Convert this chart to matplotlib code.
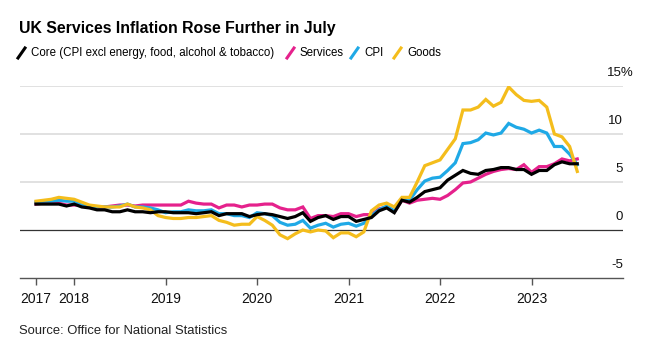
import matplotlib
matplotlib.use("Agg")
import matplotlib.pyplot as plt
from matplotlib.lines import Line2D
import pandas as pd

# Monthly annual inflation rates, Aug 2017 to Jul 2023 (%)
months = pd.date_range("2017-08-01", "2023-07-01", freq="MS")

core = [2.7, 2.7, 2.7, 2.7, 2.5,
        2.7, 2.4, 2.3, 2.1, 2.1, 1.9, 1.9, 2.1, 1.9, 1.9, 1.8, 1.9,
        1.9, 1.8, 1.8, 1.8, 1.7, 1.8, 1.9, 1.5, 1.7, 1.7, 1.7, 1.4,
        1.6, 1.7, 1.6, 1.4, 1.2, 1.4, 1.8, 0.9, 1.3, 1.5, 1.1, 1.4,
        1.4, 0.9, 1.1, 1.3, 2.0, 2.3, 1.8, 3.1, 2.9, 3.4, 4.0, 4.2,
        4.4, 5.2, 5.7, 6.2, 5.9, 5.8, 6.2, 6.3, 6.5, 6.5, 6.3, 6.3,
        5.8, 6.2, 6.2, 6.8, 7.1, 6.9, 6.9]

services = [2.7, 2.8, 2.8, 2.8, 2.6,
            2.6, 2.6, 2.5, 2.3, 2.4, 2.5, 2.6, 2.6, 2.5, 2.6, 2.6, 2.6,
            2.6, 2.6, 2.6, 3.0, 2.8, 2.7, 2.7, 2.3, 2.6, 2.6, 2.4, 2.6,
            2.6, 2.7, 2.7, 2.3, 2.1, 2.1, 2.4, 1.2, 1.5, 1.5, 1.4, 1.7,
            1.7, 1.4, 1.6, 1.6, 2.2, 2.4, 1.9, 3.1, 2.8, 3.1, 3.2, 3.3,
            3.2, 3.6, 4.2, 4.9, 5.0, 5.4, 5.8, 6.1, 6.3, 6.4, 6.3, 6.8,
            6.0, 6.6, 6.6, 6.9, 7.4, 7.2, 7.4]

cpi = [2.9, 3.0, 3.0, 3.1, 3.0,
       3.0, 2.7, 2.5, 2.4, 2.4, 2.4, 2.5, 2.7, 2.4, 2.4, 2.3, 2.1,
       1.8, 1.9, 1.9, 2.1, 2.0, 2.0, 2.1, 1.7, 1.7, 1.5, 1.5, 1.3,
       1.8, 1.7, 1.5, 0.8, 0.5, 0.6, 1.0, 0.2, 0.5, 0.7, 0.3, 0.6,
       0.7, 0.4, 0.7, 1.5, 2.1, 2.5, 2.0, 3.2, 3.1, 4.2, 5.1, 5.4,
       5.5, 6.2, 7.0, 9.0, 9.1, 9.4, 10.1, 9.9, 10.1, 11.1, 10.7, 10.5,
       10.1, 10.4, 10.1, 8.7, 8.7, 7.9, 6.8]

goods = [3.0, 3.1, 3.2, 3.4, 3.3,
         3.2, 2.9, 2.6, 2.5, 2.4, 2.4, 2.4, 2.7, 2.4, 2.3, 2.1, 1.5,
         1.3, 1.2, 1.2, 1.3, 1.3, 1.4, 1.5, 1.0, 0.8, 0.5, 0.6, 0.6,
         1.4, 1.0, 0.5, -0.5, -0.9, -0.4, 0.0, -0.2, 0.0, -0.1, -0.8, -0.3,
         -0.3, -0.7, -0.2, 2.0, 2.6, 2.8, 2.4, 3.4, 3.4, 5.0, 6.7, 7.0,
         7.3, 8.4, 9.5, 12.5, 12.5, 12.8, 13.6, 12.9, 13.3, 14.9, 14.1, 13.5,
         13.4, 13.5, 12.8, 10.0, 9.7, 8.7, 6.1]

year_labels = ["2017", "2018", "2019", "2020", "2021", "2022", "2023"]
y_levels = [-5, 0, 5, 10, 15]

PINK = "#e5218c"
BLUE = "#1fa9e6"
YELLOW = "#f4bd1c"
BLACK = "#000000"

plt.rcParams["font.family"] = ["Liberation Sans", "DejaVu Sans"]

x = [d.year + (d.month - 1) / 12 for d in months]

fig = plt.figure(figsize=(6.53, 3.49), dpi=100)
ax = fig.add_axes([20 / 653, 71 / 349, 603 / 653, 192 / 349])

lw = 2.3
ax.plot(x, services, color=PINK, lw=lw, zorder=3, solid_joinstyle="miter")
ax.plot(x, cpi, color=BLUE, lw=lw, zorder=4, solid_joinstyle="miter")
ax.plot(x, goods, color=YELLOW, lw=lw, zorder=5, solid_joinstyle="miter")
ax.plot(x, core, color=BLACK, lw=lw, zorder=6, solid_joinstyle="miter")

x0 = x[0] - 2.1 / 12
x1 = x[0] + 77 / 12
ax.set_xlim(x0, x1)
ax.set_ylim(-5, 15)

# horizontal guides
for v in y_levels[2:]:
    ax.axhline(v, color="#dcdcdc", lw=1.2, zorder=1)
ax.axhline(0, color="#333333", lw=0.9, zorder=2)

for s in ["top", "right", "left"]:
    ax.spines[s].set_visible(False)
ax.spines["bottom"].set_color("#555555")
ax.spines["bottom"].set_linewidth(1.0)

ticks = [x[0]] + [float(y) for y in year_labels[1:]]
ax.set_xticks(ticks)
ax.set_xticklabels(year_labels)
ax.tick_params(axis="x", direction="out", length=5, width=1, color="#555555",
               labelsize=10, pad=5, labelcolor="#111111")
ax.set_yticks([])

# value labels sit just above each guide on the right
for v in y_levels:
    label = f"{v}%" if v == y_levels[-1] else str(v)
    shift = 11 if v == y_levels[-1] else 0
    ax.annotate(label, xy=(1.0, v), xycoords=("axes fraction", "data"),
                xytext=(shift, 13), textcoords="offset pixels",
                ha="right", va="center", fontsize=9.5, color="#111111")

fig.text(19 / 653, 1 - 29 / 349, "UK Services Inflation Rose Further in July",
         fontsize=11.4, fontweight="bold", ha="left", va="center")

# legend with slanted swatches
legend = [("Core (CPI excl energy, food, alcohol & tobacco)", BLACK, 18),
          ("Services", PINK, 287),
          ("CPI", BLUE, 351),
          ("Goods", YELLOW, 394)]
ly = 1 - 53 / 349
for label, color, px in legend:
    fig.add_artist(Line2D([px / 653, (px + 7) / 653],
                          [ly - 5 / 349, ly + 5 / 349],
                          color=color, lw=2.2, transform=fig.transFigure))
    fig.text((px + 13) / 653, ly, label, fontsize=8.3, ha="left", va="center")

fig.text(19 / 653, 1 - 331 / 349, "Source: Office for National Statistics",
         fontsize=9.4, color="#222222", ha="left", va="center")

fig.savefig("out.png", dpi=100)
